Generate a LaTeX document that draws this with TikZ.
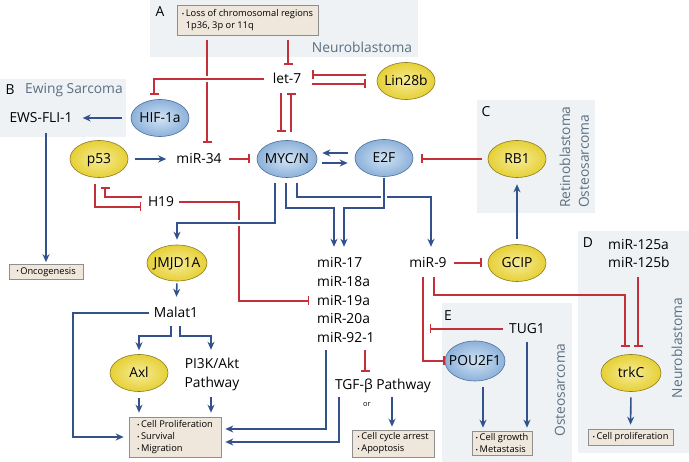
\documentclass[tikz,border=0pt]{standalone}
\usepackage{fontspec}
\usepackage{graphicx}
\setmainfont{Open Sans}
\usetikzlibrary{shapes.geometric,arrows.meta,calc}
\definecolor{inhred}{HTML}{C4303A}
\definecolor{actblue}{HTML}{33528C}
\definecolor{panelbg}{HTML}{EEF2F4}
\definecolor{boxfill}{HTML}{EFE6DC}
\definecolor{boxline}{HTML}{8E8E8E}
\definecolor{paneltxt}{HTML}{5B6F82}
\definecolor{yelout}{HTML}{E6D036}
\definecolor{yelin}{HTML}{F6EC98}
\definecolor{yelline}{HTML}{8C7C24}
\definecolor{bluout}{HTML}{8CB1DA}
\definecolor{bluin}{HTML}{D2E4F4}
\definecolor{bluline}{HTML}{50709A}
\newcommand{\bu}{{\fontsize{6.5}{6.5}\selectfont\raisebox{0.4pt}{•}}\,}
\begin{document}
\begin{tikzpicture}[x=1pt,y=-1pt,
 lbl/.style={font=\fontsize{13.8}{16}\selectfont, inner sep=0pt, text height=10pt, text depth=0pt},
 ptitle/.style={font=\fontsize{13.8}{16}\selectfont, text=paneltxt, inner sep=0pt},
 plabel/.style={font=\fontsize{13.8}{16}\selectfont, inner sep=0pt},
 ball/.style={ellipse, line width=0.6pt, minimum width=58pt, minimum height=37pt, inner xsep=-5pt, inner ysep=0pt, text height=10pt, text depth=0pt, font=\fontsize{13.8}{16}\selectfont},
 yball/.style={ball, draw=yelline, inner color=yelin, outer color=yelout},
 bball/.style={ball, draw=bluline, inner color=bluin, outer color=bluout},
 resbox/.style={draw=boxline, fill=boxfill, line width=0.6pt, font=\fontsize{9.3}{12}\selectfont, align=left, inner sep=2pt},
 act/.style={draw=actblue, line width=1.6pt, -{Stealth[length=8pt,width=7pt,inset=2.5pt]}},
 inh/.style={draw=inhred, line width=1.4pt, -{Bar[width=9pt]}},
]
\useasboundingbox (0,0) rectangle (689,462);
\fill[white] (0,0) rectangle (689,462);
% panels
\fill[panelbg] (150,0) rectangle (418,57);
\fill[panelbg] (0,79) rectangle (126,137);
\fill[panelbg] (477,100) rectangle (595,213);
\fill[panelbg] (578,231) rectangle (689,453);
\fill[panelbg] (442,303) rectangle (572,462);
\node[plabel] (la) at (160,12) {A};
\node[ptitle] (tA) at (362,47) {Neuroblastoma};
\node[plabel] (lb) at (10,90) {B};
\node[ptitle, anchor=west] (tB) at (25,90) {Ewing Sarcoma};
\node[plabel] (lc) at (486,112) {C};
\node[ptitle, rotate=90, anchor=west] (tC1) at (565,208) {Retinoblastoma};
\node[ptitle, rotate=90, anchor=west] (tC2) at (584,208) {Osteosarcoma};
\node[plabel] (ld) at (588,243) {D};
\node[ptitle, rotate=90] (tD) at (677,348) {Neuroblastoma};
\node[plabel] (le) at (448,316) {E};
\node[ptitle, rotate=90] (tE) at (560,390) {Osteosarcoma};
% nodes
\node[resbox, minimum width=141pt, minimum height=30pt] (loss) at (247.5,20) {\bu Loss of chromosomal regions\\\hphantom{\bu}1p36, 3p or 11q};
\node[lbl] (let7) at (287,79) {let-7};
\node[yball] (lin28) at (406,81) {Lin28b};
\node[bball] (hif) at (160,118) {HIF-1a};
\node[lbl] (ews) at (41,118) {EWS-FLI-1};
\node[yball] (p53) at (99,159) {p53};
\node[lbl] (mir34) at (199,159) {miR-34};
\node[bball, minimum width=60pt] (myc) at (287,159) {MYC/N};
\node[bball] (e2f) at (384,158) {E2F};
\node[yball] (rb1) at (517,159) {RB1};
\node[lbl] (h19) at (161,202) {H19};
\node[resbox, minimum width=74pt, minimum height=15pt] (onco) at (46,272) {\bu Oncogenesis};
\node[yball, minimum width=60pt, minimum height=36pt] (jmjd) at (177,263) {JMJD1A};
\node[lbl] (malat) at (176,313) {Malat1};
\node[yball] (axl) at (139,373) {Axl};
\node[lbl] (pi3ka) at (212,364) {PI3K/Akt};
\node[lbl] (pi3kb) at (212,383) {Pathway};
\node[resbox, minimum width=92pt, minimum height=40pt] (cp) at (175,437) {\bu Cell Proliferation\\\bu Survival\\\bu Migration};
\node[lbl, anchor=west] (m17) at (317,263) {miR-17};
\node[lbl, anchor=west] (m18) at (317,282) {miR-18a};
\node[lbl, anchor=west] (m19) at (317,301) {miR-19a};
\node[lbl, anchor=west] (m20) at (317,319) {miR-20a};
\node[lbl, anchor=west] (m92) at (317,338) {miR-92-1};
\node[lbl] (tgf) at (383,385) {TGF-β Pathway};
\node[font=\fontsize{7.5}{8}\selectfont, inner sep=0pt] (or) at (367,404) {or};
\node[resbox, minimum width=82pt, minimum height=27pt] (cc) at (393,443.5) {\bu Cell cycle arrest\\\bu Apoptosis};
\node[lbl] (mir9) at (428,263) {miR-9};
\node[yball] (gcip) at (517,263) {GCIP};
\node[lbl] (tug1) at (527,329) {TUG1};
\node[bball, minimum width=60pt, minimum height=40pt] (pou) at (475,361) {POU2F1};
\node[resbox, minimum width=60pt, minimum height=24pt] (growth) at (502,443) {\bu Cell growth\\\bu Metastasis};
\node[lbl, anchor=west] (m125a) at (608,245) {miR-125a};
\node[lbl, anchor=west] (m125b) at (608,263) {miR-125b};
\node[yball, minimum width=60pt] (trkc) at (631,373) {trkC};
\node[resbox, minimum width=85pt, minimum height=16pt] (tp) at (630.5,437) {\bu Cell proliferation};
% panel A connectors
\draw[inh, shorten <=5pt, shorten >=11pt] ([xshift=8pt]mir34.north |- loss.south) -- ([xshift=8pt]mir34.north);
\draw[inh, shorten <=5pt, shorten >=9pt] ([xshift=1pt]let7.north |- loss.south) -- ([xshift=1pt]let7.north);
\draw[inh, shorten <=9pt, shorten >=4.5pt, preaction={draw=white, line width=6pt, -, shorten <=9pt, shorten >=6pt}] (let7.west) -| ([xshift=-6pt]hif.north);
\coordinate (l7a) at ($(let7.east)+(0,-4)$);
\coordinate (l7b) at ($(let7.east)+(0,5)$);
\draw[inh, shorten <=11pt, shorten >=11pt] (lin28.west |- l7a) -- (l7a);
\draw[inh, shorten <=11pt, shorten >=11pt] (l7b) -- (lin28.west |- l7b);
\draw[inh, shorten <=9pt, shorten >=8.5pt] ([xshift=-6pt]let7.south) -- ([xshift=-6pt]let7.south |- myc.north);
\draw[inh, shorten <=8.5pt, shorten >=9pt] ([xshift=4pt]let7.south |- myc.north) -- ([xshift=4pt]let7.south);
% B
\draw[act, shorten <=9pt, shorten >=10pt] (hif.west) -- (ews.east);
\draw[act, shorten <=10pt, shorten >=2pt] ([xshift=5pt]ews.south) -- ([xshift=5pt]ews.south |- onco.north);
% core
\draw[act, shorten <=7pt, shorten >=10pt] (p53.east) -- (mir34.west);
\draw[inh, shorten <=7pt, shorten >=7pt] (mir34.east) -- (myc.west);
\coordinate (mu) at ($(myc.east)+(0,-6)$);
\coordinate (md) at ($(myc.east)+(0,4)$);
\draw[act, shorten <=7pt, shorten >=5pt] (e2f.west |- mu) -- (mu);
\draw[act, shorten <=5pt, shorten >=7pt] (md) -- (e2f.west |- md);
\draw[inh, shorten <=6pt, shorten >=8pt] (rb1.west) -- (e2f.east |- rb1.west);
\draw[act, shorten <=5.5pt, shorten >=6.5pt] (gcip.north) -- (rb1.south);
\draw[inh, shorten <=7.5pt, shorten >=6pt] (mir9.east) -- (gcip.west);
% H19
\coordinate (h19a) at ($(h19.west)+(0,5)$);
\coordinate (h19b) at ($(h19.west)+(0,-5)$);
\draw[inh, shorten <=6.5pt, shorten >=6.5pt] ([xshift=-4pt]p53.south) |- (h19a);
\draw[inh, shorten <=6pt, shorten >=9.5pt] (h19b) -| ([xshift=6pt]p53.south);
\draw[inh, shorten <=5pt, shorten >=8pt] (h19.east) -| ($(m19.west)+(-78,0)$) -- (m19.west);
% MYC outputs
\draw[act, shorten <=5.5pt, shorten >=5pt, preaction={draw=white, line width=6pt, -, shorten <=5.5pt, shorten >=8pt}] ([xshift=-12pt]myc.south) -- ++(0,45.5) -| (jmjd.north);
\draw[act, shorten <=5.5pt, shorten >=11pt] ([xshift=-1pt]myc.south) -- ++(0,30.5) -| ([xshift=17pt]m17.north west);
\draw[act, shorten <=5.5pt, shorten >=11pt] ([xshift=10pt]myc.south) -- ++(0,19.5) -| ([xshift=3pt]mir9.north);
\draw[act, shorten <=1pt, shorten >=11pt, preaction={draw=white, line width=6pt, -, shorten <=8pt, shorten >=14pt}] (e2f.south) -- ++(0,31.5) -| ([xshift=27pt]m17.north west);
% miR-9 outputs
\draw[inh, shorten <=9pt] ([xshift=-5pt]mir9.south) |- (pou.west);
\draw[inh, shorten <=9pt, shorten >=7.5pt] ([xshift=6pt]mir9.south) -- ++(0,27) -| ([xshift=-6pt]trkc.north);
\draw[inh, shorten <=5.5pt] (tug1.west) -- ([xshift=2pt]mir9.south |- tug1.west);
\draw[act, shorten <=8pt, shorten >=3pt] (tug1.south) -- (tug1.south |- growth.north);
\draw[act, shorten <=6pt, shorten >=3pt] ([xshift=8pt]pou.south) -- ([xshift=8pt]pou.south |- growth.north);
\draw[inh, shorten <=9pt, shorten >=7.5pt] ([xshift=7pt]trkc.north |- m125b.south) -- ([xshift=7pt]trkc.north);
\draw[act, shorten <=5.5pt, shorten >=4pt] (trkc.south) -- (tp.north);
% Malat1
\draw[act, shorten <=2pt, shorten >=11pt] (jmjd.south) -- (malat.north);
\draw[act, shorten <=8pt, shorten >=4pt] ([xshift=-5pt]malat.south) -- ++(0,18) -| (axl.north);
\draw[act, shorten <=8pt, shorten >=9pt] ([xshift=4pt]malat.south) -- ++(0,18) -| ([xshift=-1pt]pi3ka.north);
\draw[act, shorten <=6pt, shorten >=4pt] (axl.south) -- (axl.south |- cp.north);
\draw[act, shorten <=9pt, shorten >=4pt] ([xshift=-1pt]pi3kb.south) -- ([xshift=-1pt]pi3kb.south |- cp.north);
\draw[act, shorten <=5pt, shorten >=5pt] (malat.west) -- ++(-81,0) |- (cp.west);
% miR cluster
\draw[act, shorten <=7pt, shorten >=4pt] ([xshift=9pt]m92.south west) |- ($(cp.east)+(0,-8)$);
\draw[act, shorten <=7pt, shorten >=4pt] ([xshift=4pt]tgf.south west) |- ($(cp.east)+(0,5)$);
\draw[inh, shorten <=7pt, shorten >=8pt] ([xshift=48pt]m92.south west) -- ([xshift=48pt]m92.south west |- tgf.north);
\draw[act, shorten <=7pt, shorten >=3pt] ([xshift=9pt]tgf.south) -- ([xshift=9pt]tgf.south |- cc.north);
\end{tikzpicture}
\end{document}
